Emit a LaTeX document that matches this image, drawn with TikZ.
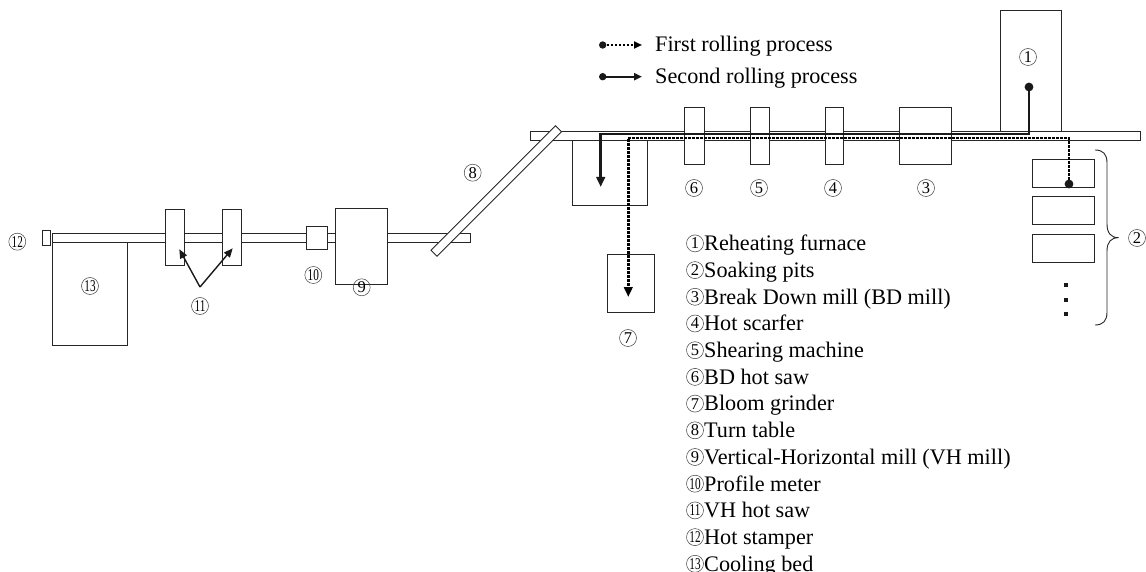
\documentclass[tikz,border=0pt]{standalone}
\usepackage{fontspec}
\setmainfont{Liberation Serif}
\usetikzlibrary{arrows.meta}
\newcommand\numtxt[1]{\ifnum#1>9 \scalebox{0.68}[1]{#1}\else #1\fi}
\begin{document}
\begin{tikzpicture}[x=1pt,y=-1pt,
  box/.style={draw=black!85, fill=white, line width=0.9pt, inner sep=0pt, outer sep=0pt},
  num/.style={circle, draw=black!75, line width=0.5pt, minimum size=17pt, inner sep=0pt, font=\fontsize{16.5}{16.5}\selectfont},
  proctwo/.style={line width=2.6pt, draw=black!90, line join=miter, -{Triangle[length=10pt,width=8.5pt]}},
  procone/.style={line width=2.8pt, draw=black, dash pattern=on 2.6pt off 1.4pt, -{Triangle[length=10pt,width=8.5pt]}},
  legtwo/.style={line width=2.3pt, draw=black!90, -{Triangle[length=8pt,width=7pt]}},
  legone/.style={line width=2.6pt, draw=black, dash pattern=on 2.6pt off 1.4pt, -{Triangle[length=8pt,width=7pt]}},
  sawarrow/.style={line width=1.4pt, draw=black!90, -{Triangle[length=9pt,width=7.5pt]}},
  txt/.style={font=\fontsize{22.2}{26.7}\selectfont, inner sep=0pt, anchor=base west},
  dot/.style={fill=black!90}
]
\useasboundingbox (0,0) rectangle (1146,572);

% ---- conveyor bars
\node[box, minimum width=610pt, minimum height=9pt] (topbar) at (835,136.2) {};
\node[box, minimum width=417.3pt, minimum height=9pt] (vhbar) at (261.35,237.8) {};

% ---- upper line equipment
\node[box, minimum width=61pt, minimum height=121.7pt] (furnace) at (1030.5,70.85) {};
\node[box, minimum width=52pt, minimum height=56.3pt] (bdmill) at (925,135.85) {};
\node[box, minimum width=18pt, minimum height=56.3pt] (scarfer) at (834,135.85) {};
\node[box, minimum width=19pt, minimum height=56.3pt] (shear) at (759.5,135.85) {};
\node[box, minimum width=20pt, minimum height=56.3pt] (bdsaw) at (694,135.85) {};
\node[box, minimum width=75pt, minimum height=64.3pt] (bed) at (610.2,172.85) {};
\node[box, minimum width=46.6pt, minimum height=58pt] (grinder) at (631,283) {};
\node[box, minimum width=61.6pt, minimum height=28pt] (pitA) at (1063.5,173.3) {};
\node[box, minimum width=61.6pt, minimum height=28pt] (pitB) at (1063.5,210.8) {};
\node[box, minimum width=61.6pt, minimum height=28pt] (pitC) at (1063.5,248.5) {};
\foreach \y in {285,299.5,314}
  \fill[black!90] (1064,\y-2) rectangle (1068,\y+2);

% brace
\draw[line width=0.9pt, black!85] (1095,150) .. controls (1103,150) and (1107,154) .. (1107,163)
  -- (1107,224) .. controls (1107,233) and (1111,237.7) .. (1118.5,237.7)
  .. controls (1111,237.7) and (1107,242) .. (1107,251)
  -- (1107,312) .. controls (1107,321) and (1103,325) .. (1095,325);

% ---- lower line equipment
\node[box, minimum width=7.3pt, minimum height=15pt] (stamper) at (46.35,238.2) {};
\node[box, minimum width=74.6pt, minimum height=102.7pt] (cooling) at (90,293.65) {};
\node[box, minimum width=19.3pt, minimum height=56.4pt] (sawA) at (174.65,237.5) {};
\node[box, minimum width=19pt, minimum height=56.4pt] (sawB) at (232.2,237.5) {};
\node[box, minimum width=20.3pt, minimum height=22.3pt] (profile) at (316.85,237.85) {};
\node[box, minimum width=51.6pt, minimum height=75.7pt] (vhmill) at (361.5,246.15) {};

% turn table
\node[box, minimum width=176pt, minimum height=8.5pt, rotate=45] (turn) at (496.25,191) {};

% ---- number labels
\node[num] (n1) at (1028,57) {1};
\node[num] (n2) at (1137,238) {2};
\node[num] (n3) at (926,188) {3};
\node[num] (n4) at (833,188) {4};
\node[num] (n5) at (759,188) {5};
\node[num] (n6) at (694,188) {6};
\node[num] (n7) at (628,338) {7};
\node[num] (n8) at (472.7,172.7) {8};
\node[num] (n9) at (361.7,287.3) {9};
\node[num] (n10) at (313.3,275) {\numtxt{10}};
\node[num] (n11) at (200,306) {\numtxt{11}};
\node[num] (n12) at (17.3,241.7) {\numtxt{12}};
\node[num] (n13) at (90,286) {\numtxt{13}};

% ---- hot saw pointers
\coordinate (o11) at (200,287);
\coordinate (tA) at (179.3,249.3);
\coordinate (tB) at (232.7,248.3);
\draw[sawarrow] (o11) -- (tA);
\draw[sawarrow] (o11) -- (tB);

% ---- process paths
\coordinate (s1) at (1069,184);
\coordinate (c1a) at (1069,138);
\coordinate (c1b) at (628.3,138);
\coordinate (e1) at (628.3,297);
\draw[procone] (s1) -- (c1a) -- (c1b) -- (e1);
\fill[dot] (s1) circle (4.4);

\coordinate (s2) at (1029,87);
\coordinate (c2a) at (1029,134);
\coordinate (c2b) at (600.7,134);
\coordinate (e2) at (600.7,187);
\draw[proctwo] (s2) -- (c2a) -- (c2b) -- (e2);
\fill[dot] (s2) circle (4.4);

% ---- legend
\coordinate (la) at (602.7,45);
\coordinate (lb) at (642,45);
\draw[legone] (la) -- (lb);
\fill[dot] (la) circle (3.7);
\node[txt] (lt1) at (655,51.7) {First rolling process};
\coordinate (lc) at (602.7,76.7);
\coordinate (ld) at (642,76.7);
\draw[legtwo] (lc) -- (ld);
\fill[dot] (lc) circle (3.7);
\node[txt] (lt2) at (655,83.4) {Second rolling process};

% ---- list
\foreach \i/\t [evaluate=\i as \yb using {250.7+(\i-1)*26.7}, evaluate=\i as \yc using {243.4+(\i-1)*26.7}] in
 {1/{Reheating furnace}, 2/{Soaking pits}, 3/{Break Down mill (BD mill)}, 4/{Hot scarfer},
  5/{Shearing machine}, 6/{BD hot saw}, 7/{Bloom grinder}, 8/{Turn table},
  9/{Vertical-Horizontal mill (VH mill)}, 10/{Profile meter}, 11/{VH hot saw},
  12/{Hot stamper}, 13/{Cooling bed}} {
  \node[num] (ln\i) at (695,\yc) {\numtxt{\i}};
  \node[txt] (lt\i) at (704,\yb) {\t};
}
\end{tikzpicture}
\end{document}
